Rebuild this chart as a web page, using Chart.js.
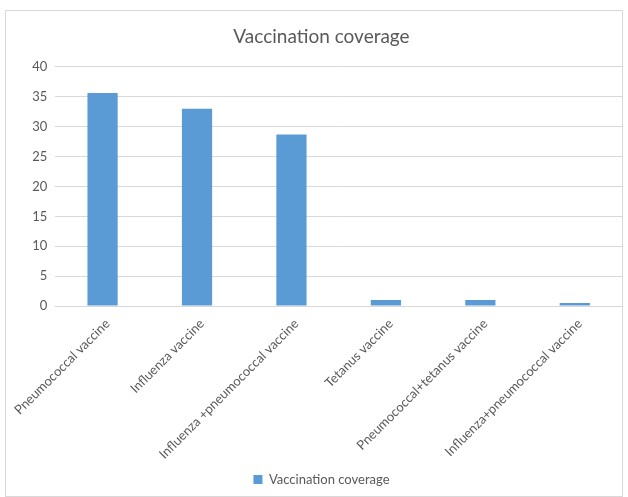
<!DOCTYPE html>
<html>
<head>
<meta charset="utf-8">
<script src="https://cdn.jsdelivr.net/npm/chart.js@4"></script>
<style>
    body { margin: 0; background: #fff; }
    #box { position: absolute; left: 5px; top: 10px; width: 616px; height: 485px; border: 1px solid #d9d9d9; }
</style>
</head>
<body>
<div id="box"><canvas id="chart1"></canvas></div>
<script>
var categories = ['Pneumococcal vaccine', 'Influenza vaccine', 'Influenza +pneumococcal vaccine',
    'Tetanus vaccine', 'Pneumococcal+tetanus vaccine', 'Influenza+pneumococcal vaccine'];
var coverage = [35.6, 33.0, 28.7, 1.0, 1.0, 0.5];
var yTicks = [0, 5, 10, 15, 20, 25, 30, 35, 40];

document.addEventListener('DOMContentLoaded', function () {
    var ctx1 = document.getElementById('chart1').getContext('2d');
    Chart.defaults.font.family = 'Lato, "Open Sans", sans-serif';
    Chart.defaults.color = '#595959';

    var chart1 = new Chart(ctx1, {
        type: 'bar',
        data: {
            labels: categories,
            datasets: [{
                label: 'Vaccination coverage',
                data: coverage,
                backgroundColor: '#5b9bd5',
                categoryPercentage: 1,
                barPercentage: 0.32
            }]
        },
        options: {
            responsive: true,
            maintainAspectRatio: false,
            animation: false,
            layout: { padding: { left: 15, right: 0, top: 0, bottom: 0 } },
            plugins: {
                title: {
                    display: true,
                    text: 'Vaccination coverage',
                    color: '#595959',
                    padding: { top: 14, bottom: 19 },
                    font: { size: 19, weight: 'normal' }
                },
                legend: {
                    position: 'bottom',
                    labels: { boxWidth: 9, boxHeight: 9, font: { size: 13 }, padding: 9 }
                },
                tooltip: { enabled: false }
            },
            scales: {
                x: {
                    grid: { display: false },
                    border: { color: '#d9d9d9' },
                    ticks: { minRotation: 45, maxRotation: 45, font: { size: 13 }, padding: 2, labelOffset: 5 }
                },
                y: {
                    min: yTicks[0],
                    max: yTicks[yTicks.length - 1],
                    afterBuildTicks: function (axis) {
                        axis.ticks = yTicks.map(function (v) { return { value: v }; });
                    },
                    grid: { color: '#d9d9d9', drawTicks: false },
                    border: { display: false },
                    ticks: { font: { size: 13 }, padding: 8 }
                }
            }
        }
    });
});
</script>
</body>
</html>
